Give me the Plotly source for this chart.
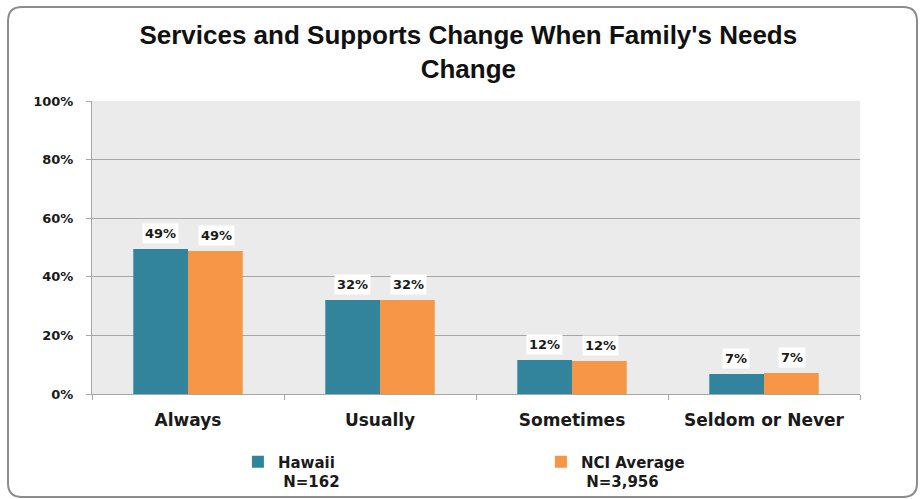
import plotly.graph_objects as go

categories = ["Always", "Usually", "Sometimes", "Seldom or Never"]
hawaii = [49.5, 32.1, 11.6, 6.8]
nci = [48.8, 32.1, 11.3, 7.2]
hawaii_labels = ["49%", "32%", "12%", "7%"]
nci_labels = ["49%", "32%", "12%", "7%"]
series_names = ["<b>Hawaii<br> N=162</b>", "<b>NCI Average<br> N=3,956</b>"]
tick_vals = [0, 20, 40, 60, 80, 100]
tick_text = ["0%", "20%", "40%", "60%", "80%", "100%"]

TEAL = "#31849B"
ORANGE = "#F79646"
FONT = "DejaVu Sans, Verdana, sans-serif"

W, H = 921, 499
ml, mr, mt, mb = 92, 61, 101, 105
pw, ph = W - ml - mr, H - mt - mb

fig = go.Figure()
fig.add_trace(go.Bar(x=categories, y=hawaii, name=series_names[0],
                     marker=dict(color=TEAL, line=dict(width=0))))
fig.add_trace(go.Bar(x=categories, y=nci, name=series_names[1],
                     marker=dict(color=ORANGE, line=dict(width=0))))

annotations = []
for vals, labs, shift in ((hawaii, hawaii_labels, -28), (nci, nci_labels, 28)):
    for cat, v, lab in zip(categories, vals, labs):
        annotations.append(dict(x=cat, y=v, text="<b>%s</b>" % lab, xref="x", yref="y",
                                showarrow=False, yanchor="bottom", yshift=5, xshift=shift,
                                bgcolor="white", borderpad=2,
                                font=dict(family=FONT, size=13, color="#1a1a1a")))

# outer rounded border in paper coords
def px_to_paper_x(px):
    return (px - ml) / pw

def px_to_paper_y(py):
    return (H - mb - py) / ph

x0, x1, y0, y1, r = 8, 917, 7, 497, 14
rx, ry = r / pw, r / ph
X0, X1 = px_to_paper_x(x0), px_to_paper_x(x1)
Yt, Yb = px_to_paper_y(y0), px_to_paper_y(y1)
path = (f"M {X0+rx},{Yt} L {X1-rx},{Yt} Q {X1},{Yt} {X1},{Yt-ry} "
        f"L {X1},{Yb+ry} Q {X1},{Yb} {X1-rx},{Yb} L {X0+rx},{Yb} "
        f"Q {X0},{Yb} {X0},{Yb+ry} L {X0},{Yt-ry} Q {X0},{Yt} {X0+rx},{Yt} Z")

fig.update_layout(
    width=W, height=H,
    margin=dict(l=ml, r=mr, t=mt, b=mb, autoexpand=False),
    paper_bgcolor="white",
    plot_bgcolor="#EBEBEB",
    barmode="group",
    bargap=0.43,
    bargroupgap=0,
    title=dict(text="<b>Services and Supports Change When Family's Needs<br>Change</b>",
               x=0.49, xref="paper", xanchor="center", y=0.911, yanchor="top",
               font=dict(family="Liberation Sans, Arial, sans-serif", size=26, color="#111111")),
    font=dict(family=FONT, color="#1a1a1a"),
    showlegend=True,
    legend=dict(orientation="h", x=0.19, xanchor="left", y=-0.176, yanchor="top",
                entrywidth=258, entrywidthmode="pixels", valign="top",
                font=dict(family=FONT, size=15, color="#1a1a1a"),
                itemwidth=30, traceorder="normal", bgcolor="rgba(0,0,0,0)"),
    annotations=annotations,
    shapes=[dict(type="path", path=path, xref="paper", yref="paper",
                 line=dict(color="#8C8C8C", width=2), fillcolor="rgba(0,0,0,0)", layer="below")],
    yaxis=dict(range=[0, 100], tickvals=tick_vals, ticktext=["<b>%s</b>" % t for t in tick_text],
               showgrid=True, gridcolor="#A6A6A6", gridwidth=1,
               showline=True, linecolor="#A6A6A6", linewidth=1,
               ticks="outside", ticklen=5, tickcolor="#A6A6A6", ticklabelstandoff=10,
               tickfont=dict(family=FONT, size=13, color="#1a1a1a"), zeroline=False),
    xaxis=dict(showline=True, linecolor="#A6A6A6", linewidth=1,
               ticks="outside", tickson="boundaries", ticklen=5, tickcolor="#A6A6A6",
               ticklabelstandoff=11,
               tickvals=categories, ticktext=["<b>%s</b>" % c for c in categories],
               tickfont=dict(family=FONT, size=17, color="#1a1a1a")),
)

fig.write_html("out.html", config={"displayModeBar": False},
               post_script="document.body.style.margin='0px';")
